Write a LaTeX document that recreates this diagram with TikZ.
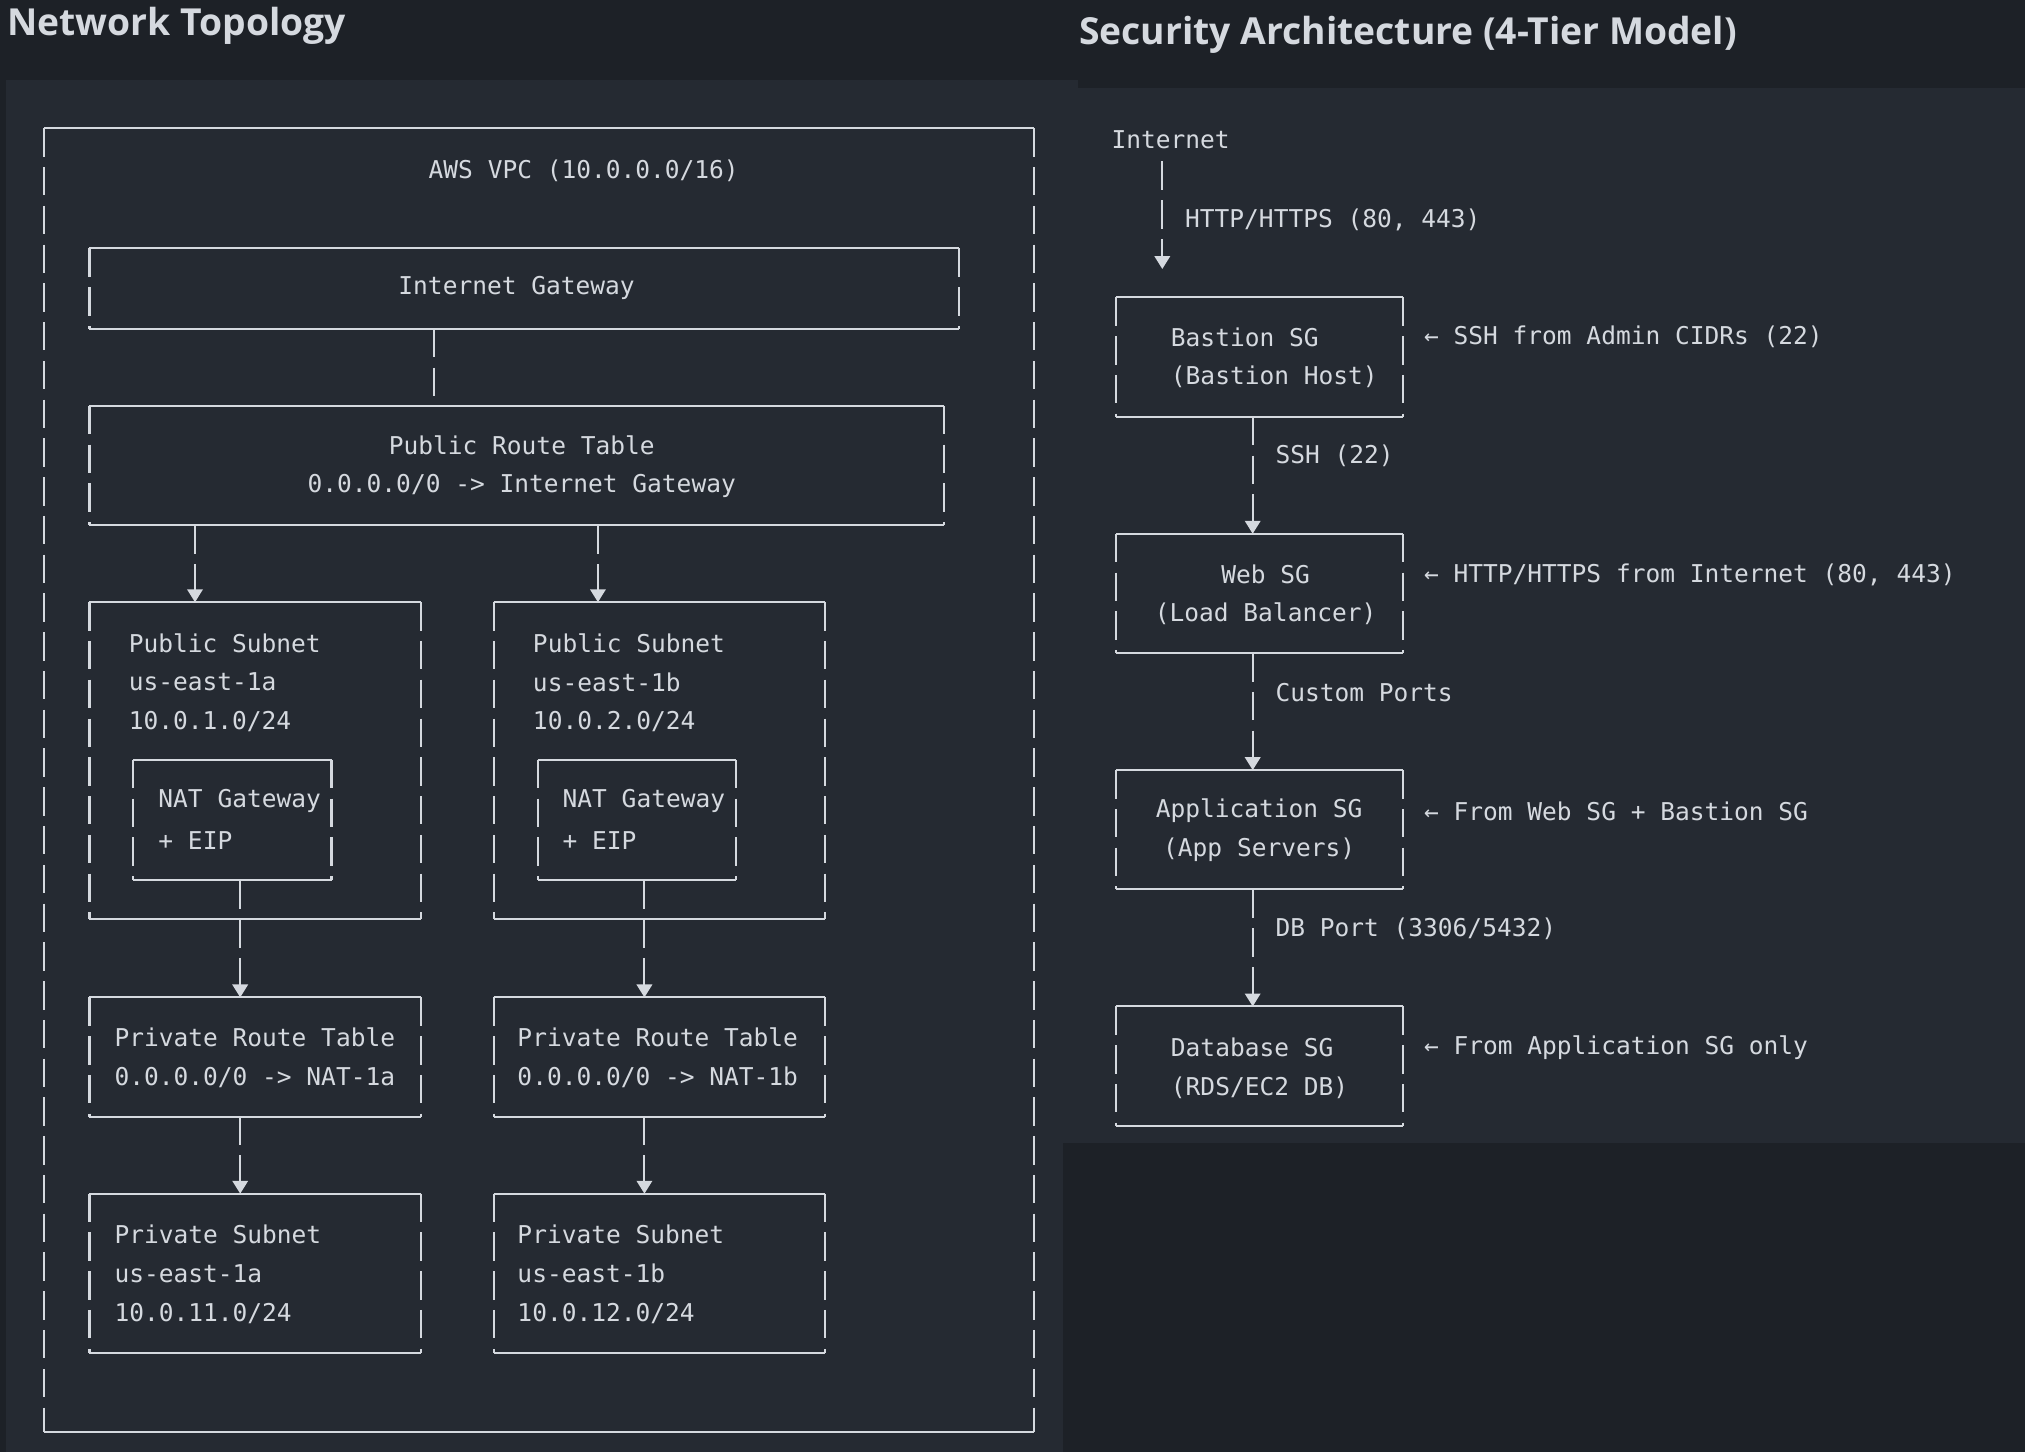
\documentclass[tikz,border=0pt]{standalone}
\usepackage{fontspec}
\setmainfont{DejaVu Sans Mono}
\newfontfamily\titlefont{Open Sans}
\usetikzlibrary{fit,arrows.meta}
\definecolor{bgdark}{HTML}{1D2127}
\definecolor{panel}{HTML}{252A32}
\definecolor{ink}{HTML}{D5D9DF}
\tikzset{
  box/.style={draw=none, inner sep=0pt},
  edge/.style={draw=ink, line width=0.45pt},
  side/.style={draw=ink, line width=0.45pt, dash pattern=on 0.22cm off 0.08cm},
  link/.style={side, -{Triangle[width=0.12cm,length=0.1cm]}},
  plain/.style={side},
  txt/.style={text=ink, inner sep=0pt, font=\fontsize{5.4}{8.6}\selectfont},
  lt/.style={txt, anchor=west, align=left},
  ct/.style={txt, align=center},
  ttl/.style={text=ink, anchor=west, inner sep=0pt, font=\titlefont\fontsize{8.2}{10}\selectfont\bfseries}
}
% box with solid top/bottom and broken sides
\newcommand{\asciibox}[3]{
  \node[box, fit={#2 #3}] (#1) {};
  \draw[edge] (#1.north west) -- (#1.north east);
  \draw[edge] (#1.south west) -- (#1.south east);
  \draw[side] (#1.north west) -- (#1.south west);
  \draw[side] (#1.north east) -- (#1.south east);
}
\begin{document}
\begin{tikzpicture}[x=0.01cm,y=-0.01cm]
  \fill[bgdark] (0,0) rectangle (1568,1124);
  \useasboundingbox (0,0) rectangle (1568,1124);
  \fill[panel] (5,62) rectangle (823,1124);
  \fill[panel] (823,62) rectangle (835,885);
  \fill[panel] (835,68) rectangle (1568,885);
  \node[ttl] (ttlA) at (5,20) {Network Topology};
  \node[ttl] (ttlB) at (835,27) {Security Architecture (4-Tier Model)};

  % network topology
  \asciibox{vpc}{(35,100)}{(800,1108)}
  \node[ct] (vpcT) at (452,132) {AWS VPC (10.0.0.0/16)};
  \asciibox{igw}{(70,193)}{(742,254)}
  \node[ct] at (400,223) {Internet Gateway};
  \asciibox{pubRT}{(70,315)}{(730,406)}
  \node[ct] at (404,345) {Public Route Table};
  \node[ct] at (404,376) {0.0.0.0/0 -> Internet Gateway};
  \asciibox{pubA}{(70,467)}{(325,711)}
  \node[lt] at (99,498) {Public Subnet};
  \node[lt] at (99,528) {us-east-1a};
  \node[lt] at (99,559) {10.0.1.0/24};
  \asciibox{natA}{(104,589)}{(256,681)}
  \node[lt] at (122,620) {NAT Gateway};
  \node[lt] at (122,651) {+ EIP};
  \asciibox{pubB}{(383,467)}{(638,711)}
  \node[lt] at (412,498) {Public Subnet};
  \node[lt] at (412,528) {us-east-1b};
  \node[lt] at (412,559) {10.0.2.0/24};
  \asciibox{natB}{(417,589)}{(569,681)}
  \node[lt] at (435,620) {NAT Gateway};
  \node[lt] at (435,651) {+ EIP};
  \asciibox{privRTA}{(70,773)}{(325,864)}
  \node[lt] at (88,803) {Private Route Table};
  \node[lt] at (88,834) {0.0.0.0/0 -> NAT-1a};
  \asciibox{privRTB}{(383,773)}{(638,864)}
  \node[lt] at (400,803) {Private Route Table};
  \node[lt] at (400,834) {0.0.0.0/0 -> NAT-1b};
  \asciibox{privA}{(70,925)}{(325,1047)}
  \node[lt] at (88,956) {Private Subnet};
  \node[lt] at (88,986) {us-east-1a};
  \node[lt] at (88,1017) {10.0.11.0/24};
  \asciibox{privB}{(383,925)}{(638,1047)}
  \node[lt] at (400,956) {Private Subnet};
  \node[lt] at (400,986) {us-east-1b};
  \node[lt] at (400,1017) {10.0.12.0/24};

  \draw[plain] (igw.south -| 336,0) -- (pubRT.north -| 336,0);
  \draw[link] (pubRT.south -| 151,0) -- (pubA.north -| 151,0);
  \draw[link] (pubRT.south -| 463,0) -- (pubB.north -| 463,0);
  \draw[link] (natA.south -| 186,0) -- (privRTA.north -| 186,0);
  \draw[link] (natB.south -| 499,0) -- (privRTB.north -| 499,0);
  \draw[link] (privRTA.south -| 186,0) -- (privA.north -| 186,0);
  \draw[link] (privRTB.south -| 499,0) -- (privB.north -| 499,0);

  % security architecture
  \node[lt] (inet) at (860,108) {Internet};
  \asciibox{bastion}{(865,231)}{(1086,322)}
  \node[lt] at (906,261) {Bastion SG};
  \node[lt] at (906,292) {(Bastion Host)};
  \asciibox{web}{(865,414)}{(1086,505)}
  \node[ct] at (980,445) {Web SG};
  \node[ct] at (980,475) {(Load Balancer)};
  \asciibox{app}{(865,597)}{(1086,688)}
  \node[ct] at (975,628) {Application SG};
  \node[ct] at (975,658) {(App Servers)};
  \asciibox{db}{(865,780)}{(1086,871)}
  \node[lt] at (906,811) {Database SG};
  \node[lt] at (906,842) {(RDS/EC2 DB)};

  \draw[link, shorten >=0.22cm] (900,125) -- (bastion.north -| 900,0);
  \node[lt] at (917,170) {HTTP/HTTPS (80, 443)};
  \draw[link] (bastion.south -| 970,0) -- (web.north -| 970,0);
  \node[lt] at (987,353) {SSH (22)};
  \draw[link] (web.south -| 970,0) -- (app.north -| 970,0);
  \node[lt] at (987,536) {Custom Ports};
  \draw[link] (app.south -| 970,0) -- (db.north -| 970,0);
  \node[lt] at (987,719) {DB Port (3306/5432)};

  \node[lt] at (1102,261) {← SSH from Admin CIDRs (22)};
  \node[lt] at (1102,445) {← HTTP/HTTPS from Internet (80, 443)};
  \node[lt] at (1102,628) {← From Web SG + Bastion SG};
  \node[lt] at (1102,811) {← From Application SG only};
\end{tikzpicture}
\end{document}
